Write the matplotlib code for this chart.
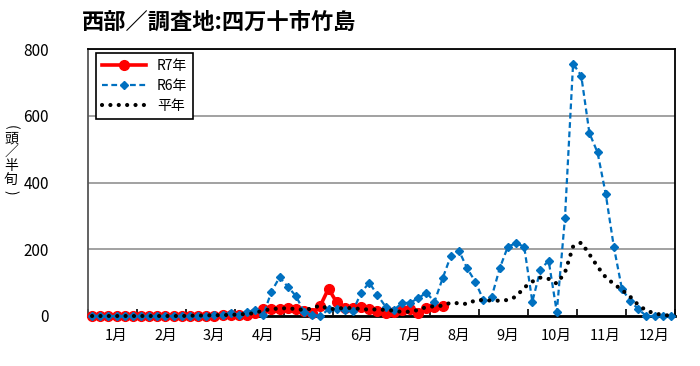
import matplotlib
matplotlib.use("Agg")
import matplotlib.pyplot as plt
import matplotlib.transforms as mtransforms
import numpy as np

plt.rcParams['font.family'] = ['Noto Sans CJK JP', 'DejaVu Sans']

# 半旬ごとの誘殺数（頭）: 1年 = 72 半旬
months = ["1月", "2月", "3月", "4月", "5月", "6月",
          "7月", "8月", "9月", "10月", "11月", "12月"]

r7 = [0, 0, 0, 0, 0, 0, 0, 0, 0, 0, 0, 0, 0, 0, 0, 0,
      2, 3, 2, 4, 8, 21, 21, 22, 23, 21, 14, 10, 31, 82,
      41, 24, 23, 27, 21, 15, 9, 12, 18, 20, 8, 25, 27, 29]

r6 = [0, 0, 0, 0, 0, 0, 0, 0, 0, 0, 0, 0, 0, 0, 0,
      2, 3, 10, 3, 12, 18, 3, 73, 116, 88, 60, 13, 3, 0, 20,
      20, 18, 15, 70, 100, 63, 28, 18, 38, 40, 53, 70, 43, 113,
      180, 196, 143, 103, 48, 56, 143, 208, 218, 208, 43, 139, 166,
      12, 293, 756, 720, 548, 490, 366, 207, 80, 46, 20, 0, 0, 0, 0]

heinen = [0, 0, 0, 0, 0, 0, 0, 0, 0, 0, 0, 0, 1, 1, 2, 2,
          3, 3, 5, 6, 9, 17, 20, 23, 23, 21, 18, 23, 32, 21,
          21, 25, 23, 21, 19, 20, 18, 16, 12, 13, 18, 27, 29, 31,
          40, 38, 36, 47, 48, 46, 46, 48, 58, 85, 103, 115, 111, 97,
          130, 208, 220, 185, 148, 116, 96, 78, 58, 33, 16, 8, 3, 1]

x7 = np.arange(len(r7)) + 0.5
x6 = np.arange(len(r6)) + 0.5
xh = np.arange(len(heinen)) + 0.5

fig = plt.figure(figsize=(7.0, 3.66), dpi=100)
ax = fig.add_axes([88/700, 50/366, 587/700, 267/366])

ax.plot(x7, r7, "-", color="#FF0000", linewidth=2.6, marker="o",
        markersize=7, label="R7年", clip_on=False, zorder=3)
ax.plot(x6, r6, color="#0070C0", linewidth=1.6, linestyle=(0, (2.6, 1.6)),
        marker="D", markersize=3.6, label="R6年", clip_on=False, zorder=4)
ax.plot(xh, heinen, color="black", linewidth=3.0, linestyle=(0, (0.01, 2.0)),
        dash_capstyle="round", label="平年", clip_on=False, zorder=5)

ax.set_xlim(0, 72)
ax.set_ylim(0, 800)
ax.set_yticks([0, 200, 400, 600, 800])
ax.yaxis.grid(True, color="#9a9a9a", linewidth=1.3)
ax.set_axisbelow(True)
ax.tick_params(axis="y", length=0, pad=28, labelsize=11)

ax.set_xticks(np.arange(0, 73, 6))
ax.set_xticklabels([])
ax.set_xticks(np.arange(3, 72, 6), minor=True)
ax.set_xticklabels(months, minor=True)
ax.tick_params(axis="x", which="major", direction="in", length=5, width=1.2)
ax.tick_params(axis="x", which="minor", length=0, pad=9, labelsize=10.5)
shift = mtransforms.ScaledTranslation(4/100, 0, fig.dpi_scale_trans)
for lab in ax.get_xticklabels(minor=True):
    lab.set_transform(lab.get_transform() + shift)

for side in ["top", "right"]:
    ax.spines[side].set_color("black")
    ax.spines[side].set_linewidth(1.3)
ax.spines["left"].set_color("#555555")
ax.spines["left"].set_linewidth(1.3)
ax.spines["bottom"].set_color("black")
ax.spines["bottom"].set_linewidth(2)

leg = ax.legend(loc="upper left", bbox_to_anchor=(8/587, 1 - 4/267),
                borderaxespad=0, fontsize=10, handlelength=3.2,
                labelspacing=0.45, numpoints=1, fancybox=False,
                framealpha=1, edgecolor="black")
leg.get_frame().set_linewidth(1.2)

fig.text(82/700, 1 - 22/366, "西部／調査地:四万十市竹島", fontsize=16,
         fontweight="bold", ha="left", va="center")

# 縦書きの軸ラベル（頭／半旬）
ylab_chars = ["(", "頭", "／", "半", "旬", ")"]
ylab_rot = [-90, 0, 0, 0, 0, -90]
ylab_pos = [127, 139, 152, 166, 180, 192]
for ch, rot, yp in zip(ylab_chars, ylab_rot, ylab_pos):
    fig.text(11/700, 1 - yp/366, ch, fontsize=10, rotation=rot,
             ha="center", va="center")

fig.savefig("out.png", dpi=100)
